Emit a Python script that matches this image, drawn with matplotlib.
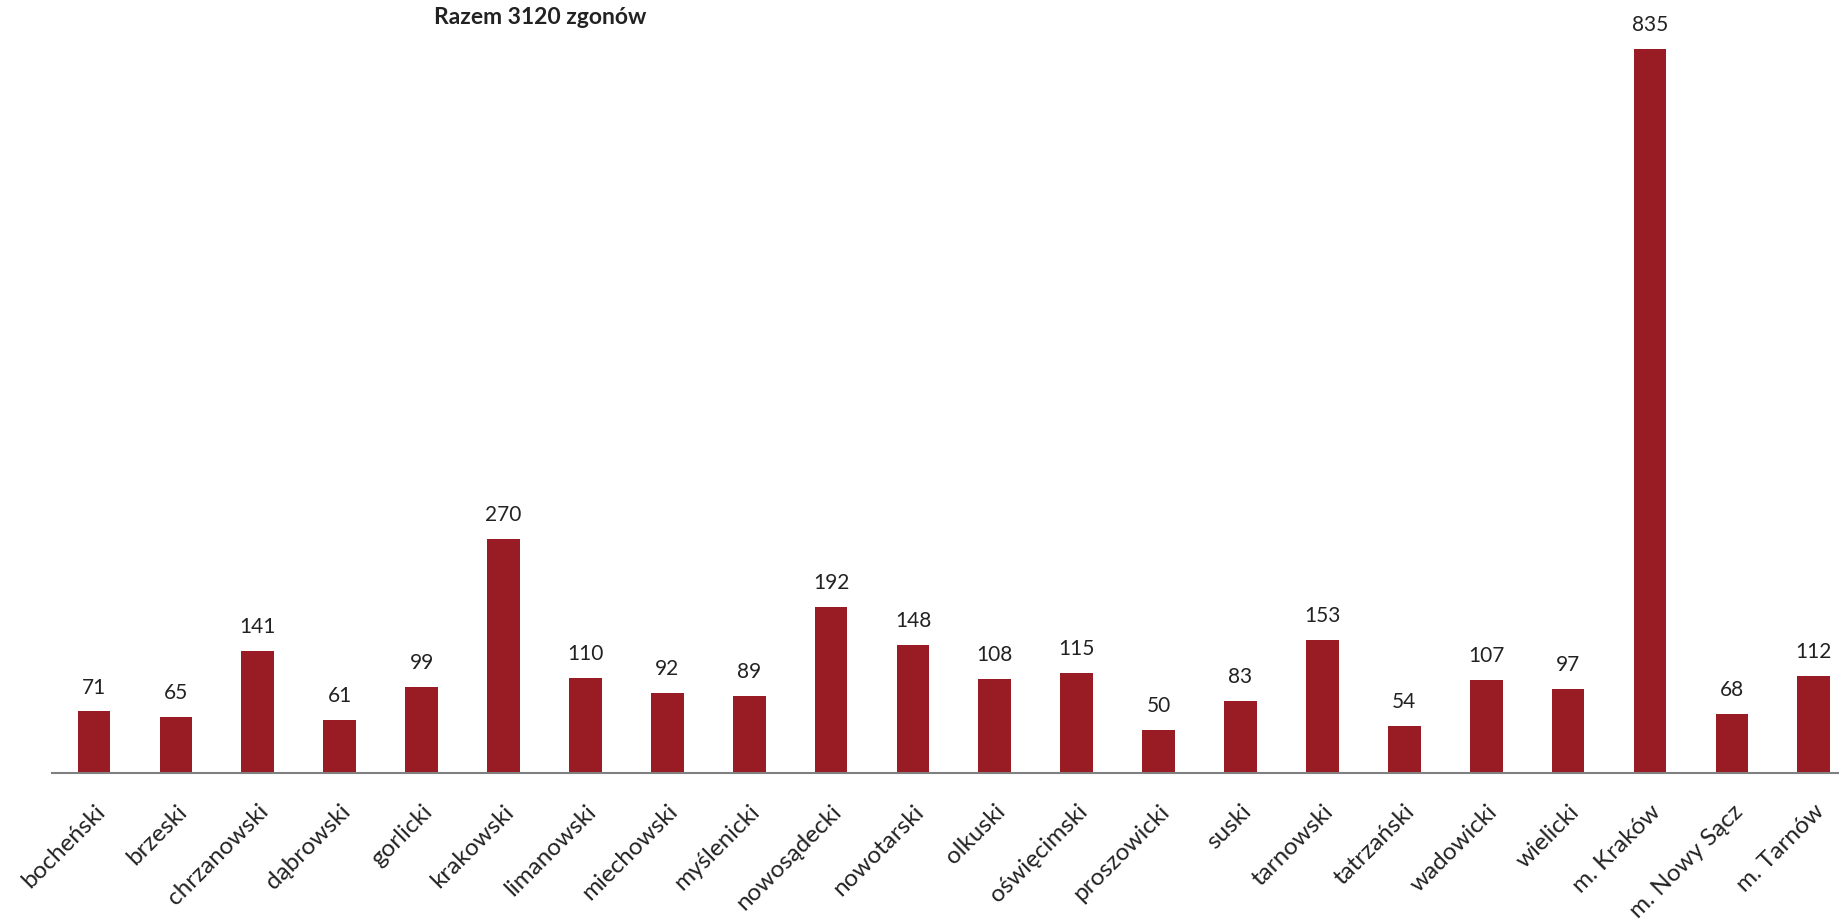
import matplotlib.pyplot as plt

powiaty = ["bocheński", "brzeski", "chrzanowski", "dąbrowski", "gorlicki",
           "krakowski", "limanowski", "miechowski", "myślenicki", "nowosądecki",
           "nowotarski", "olkuski", "oświęcimski", "proszowicki", "suski",
           "tarnowski", "tatrzański", "wadowicki", "wielicki", "m. Kraków",
           "m. Nowy Sącz", "m. Tarnów"]
zgony = [71, 65, 141, 61, 99, 270, 110, 92, 89, 192, 148, 108, 115, 50, 83,
         153, 54, 107, 97, 835, 68, 112]
tytul = "Razem 3120 zgonów"

plt.rcParams['font.family'] = ['Lato', 'DejaVu Sans']

fig = plt.figure(figsize=(18.4, 9.22), dpi=100)
ax = fig.add_axes([52 / 1840, 149 / 922, 1788 / 1840, 763 / 922])

x = range(len(powiaty))
bars = ax.bar(x, zgony, width=0.40, color="#991c24")
ax.bar_label(bars, padding=10, fontsize=15, color="#222222")

ax.set_xlim(-0.513, 21.32)
ax.set_ylim(0, 880)
ax.set_xticks(list(x))
ax.set_xticklabels(powiaty, rotation=45, ha="right", rotation_mode="anchor",
                   fontsize=17.5, color="#222222")
ax.tick_params(axis="x", length=0, pad=20)
ax.set_yticks([])
for s in ["left", "right", "top"]:
    ax.spines[s].set_visible(False)
ax.spines["bottom"].set_color("#808080")
ax.spines["bottom"].set_linewidth(1.5)

fig.text(540 / 1840, 1 - 18 / 922, tytul, ha="center", va="center",
         fontsize=16.5, fontweight="bold", color="#222222")

plt.savefig("out.png", dpi=100)
plt.close()
